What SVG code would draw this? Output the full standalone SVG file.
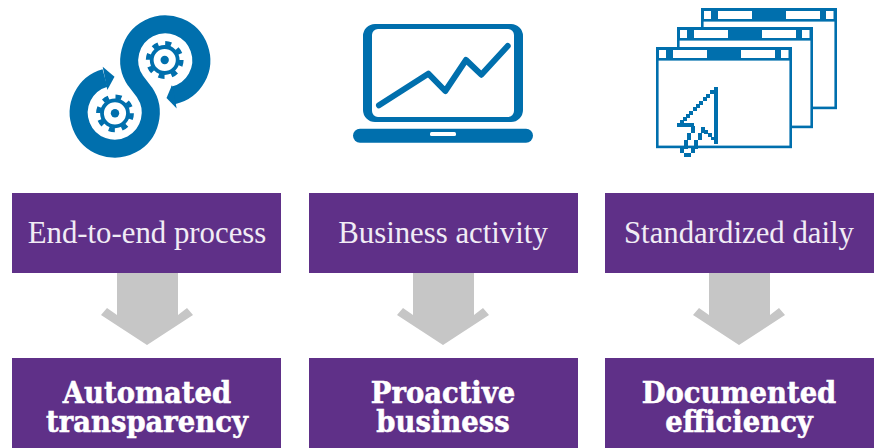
<svg xmlns="http://www.w3.org/2000/svg" width="879" height="448" viewBox="0 0 879 448">
<style>
.box{fill:#5f3088}
.arrow{fill:#c6c6c6}
.t1{font-family:"Liberation Serif","DejaVu Serif",serif;font-size:30.8px;fill:#f1ecf5;text-anchor:middle}
.t2{font-family:"DejaVu Serif",serif;font-weight:700;font-stretch:condensed;font-size:30.500px;fill:#fff;stroke:#fff;stroke-width:.5;text-anchor:middle}
.b{fill:#006fad}
.w{fill:#fff}
.win{fill:#fff;stroke:#006fad;stroke-width:2.6}
</style>
<defs>
<g id="window">
<rect class="win" x="1.3" y="1.3" width="133.4" height="98.6"/>
<rect class="b" x="0" y="0" width="136" height="13.6"/>
<rect class="w" x="3" y="3" width="7" height="8"/>
<rect class="w" x="17" y="3" width="34" height="8"/>
<rect class="w" x="85" y="3" width="34" height="8"/>
<rect class="w" x="125" y="3" width="7.5" height="8"/>
</g>
<g id="gear">
<circle r="13" fill="none" stroke="#006fad" stroke-width="3.8"/>
<circle r="16.6" fill="none" stroke="#006fad" stroke-width="4.6" stroke-dasharray="6 7.04"/>
<circle r="4.2" class="b"/>
</g>
</defs>
<g id="icon-process">
<path d="M105 78A36 36 0 1 0 144.5 92.4L135.5 80.6A36 36 0 1 1 173 95.5" fill="none" stroke="#006fad" stroke-width="18"/>
<path class="b" d="M102.7 66.7L114.5 76.7L107.3 90Z"/>
<path class="b" d="M166.5 98L176.7 108.500L172 85Z"/>
<use href="#gear" x="164.7" y="60"/>
<use href="#gear" x="115" y="113.300"/>
</g>
<g id="icon-laptop">
<path class="b" fill-rule="evenodd" d="M375 24H511a12 12 0 0 1 12 12V110a12 12 0 0 1-12 12H375a12 12 0 0 1-12-12V36a12 12 0 0 1 12-12ZM378 29a6 6 0 0 0-6 6V111a6 6 0 0 0 6 6H508a6 6 0 0 0 6-6V35a6 6 0 0 0-6-6Z"/>
<path d="M379 105.300L428.300 73.700L445.300 91L466 60L481.300 74.700L507.700 46" fill="none" stroke="#006fad" stroke-width="6" stroke-linecap="round" stroke-linejoin="round"/>
<rect class="b" x="353" y="128.700" width="180" height="14" rx="7"/>
<rect class="w" x="430" y="132" width="26" height="4" rx="1.500"/>
</g>
<g id="icon-windows">
<use href="#window" x="701" y="8"/>
<use href="#window" x="677" y="27"/>
<use href="#window" x="656" y="47"/>
<path class="b" shape-rendering="crispEdges" d="M714 87h4v56.500h-4zM710 90h4v4h-4zM706 94h4v4h-4zM702.500 97h4v4h-4zM699 100.500h4v4h-4zM696 104h4v4h-4zM692.500 107h4v4h-4zM689 110.500h4v4h-4zM686 114h4v4h-4zM683 117h4v4h-4zM680 120h4v4h-4zM677 122.500h17v4h-17zM690.500 126h4v7h-4zM687 133h4v7h-4zM684 140h4v8.500h-4zM680 148h4v5h-4zM684 153h7v4h-7zM691 148h4v5h-4zM694 140h4v8.500h-4zM697.500 133h4v7h-4zM701 127h4v6h-4zM704 130h4v3.500h-4zM707.500 133h4v3.500h-4zM711 136.500h4v3.500h-4z"/>
</g>
<g id="connectors">
<path class="arrow" d="M117 273H178V315L187 308L193 315L147 345L101 315L107 308L117 315Z"/>
<path class="arrow" d="M413 273H474V315L483 308L489 315L443 345L397 315L403 308L413 315Z"/>
<path class="arrow" d="M709 273H770V315L779 308L785 315L739 345L693 315L699 308L709 315Z"/>
</g>
<g id="node-end-to-end"><rect class="box" x="12" y="193" width="269" height="80"/><text class="t1" x="147" y="243">End-to-end process</text></g>
<g id="node-business"><rect class="box" x="309" y="193" width="269" height="80"/><text class="t1" x="443" y="243">Business activity</text></g>
<g id="node-standardized"><rect class="box" x="605" y="193" width="269" height="80"/><text class="t1" x="739" y="243">Standardized daily</text></g>
<g id="node-automated"><rect class="box" x="12" y="358" width="269" height="90"/><text class="t2"><tspan x="147" y="402.500">Automated</tspan><tspan x="147" y="432">transparency</tspan></text></g>
<g id="node-proactive"><rect class="box" x="309" y="358" width="269" height="90"/><text class="t2"><tspan x="443" y="402.500">Proactive</tspan><tspan x="443" y="432">business</tspan></text></g>
<g id="node-documented"><rect class="box" x="605" y="358" width="269" height="90"/><text class="t2"><tspan x="739" y="402.500">Documented</tspan><tspan x="739" y="432">efficiency</tspan></text></g>
</svg>
